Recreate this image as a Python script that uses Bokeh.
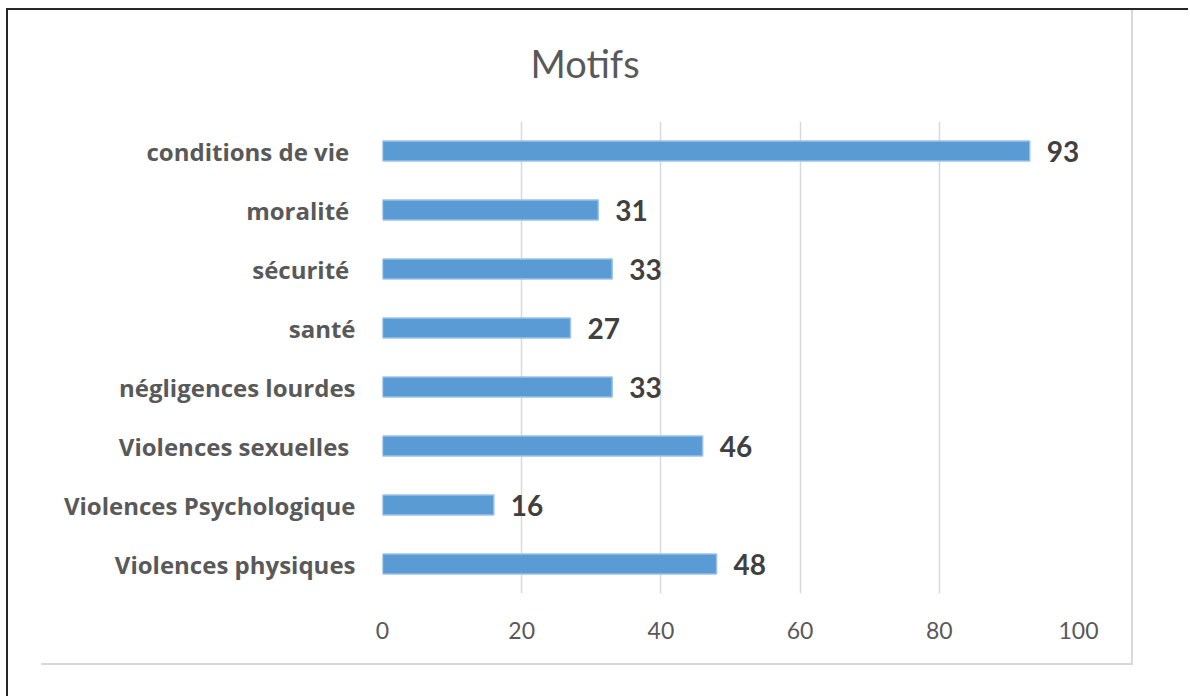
from bokeh.plotting import figure
from bokeh.models import ColumnDataSource, Title, FixedTicker
from bokeh.core.properties import value
from bokeh.embed import file_html
from bokeh.resources import INLINE

# Data (bottom to top, as drawn)
categories = [
    "Violences physiques",
    "Violences Psychologique",
    "Violences sexuelles ",
    "négligences lourdes",
    "santé",
    "sécurité ",
    "moralité ",
    "conditions de vie ",
]
counts = [48, 16, 46, 33, 27, 33, 31, 93]
x_ticks = [0, 20, 40, 60, 80, 100]
title_text = "Motifs"

src = ColumnDataSource(dict(cat=categories, val=counts, lab=[str(v) for v in counts]))

W, H = 1188, 696
p = figure(
    width=W, height=H,
    y_range=categories, x_range=(0, 100),
    output_backend="svg", toolbar_location=None,
    min_border_left=382, min_border_right=W - 1078,
    min_border_top=121, min_border_bottom=H - 593,
)
p.outline_line_color = None
p.background_fill_color = "white"
p.border_fill_alpha = 0

# page frame: dark top/left border, light grey chart-area box (CSS backgrounds)
dark, grey = "#262626", "#d9d9d9"
p.styles = {
    "background": ", ".join([
        f"linear-gradient({dark},{dark}) 6px 8px / 1182px 2px no-repeat",
        f"linear-gradient({dark},{dark}) 6px 8px / 2px 688px no-repeat",
        f"linear-gradient({grey},{grey}) 1131px 10px / 2px 655px no-repeat",
        f"linear-gradient({grey},{grey}) 41px 663px / 1092px 2px no-repeat",
        "white",
    ])
}

p.hbar(y="cat", right="val", height=0.34, left=0, source=src,
       fill_color="#5b9bd5", line_color="#9cc2e8", line_width=1.5)

p.text(x="val", y="cat", text="lab", source=src, x_offset=17,
       text_baseline="middle", text_align="left",
       text_font=value("Lato"), text_font_style="bold",
       text_font_size="28px", text_color="#404040")

# x axis
p.xaxis.ticker = FixedTicker(ticks=x_ticks)
p.xaxis.axis_line_color = None
p.xaxis.major_tick_line_color = None
p.xaxis.minor_tick_line_color = None
p.xaxis.major_label_text_font = "Lato"
p.xaxis.major_label_text_font_size = "23px"
p.xaxis.major_label_text_color = "#595959"
p.xaxis.major_label_standoff = 22

# y axis
p.yaxis.axis_line_color = None
p.yaxis.major_tick_line_color = None
p.yaxis.minor_tick_line_color = None
p.yaxis.major_label_text_font = "Open Sans"
p.yaxis.major_label_text_font_style = "bold"
p.yaxis.major_label_text_font_size = "24px"
p.yaxis.major_label_text_color = "#595959"
p.yaxis.major_label_standoff = 21

p.xgrid.grid_line_color = grey
p.xgrid.grid_line_width = 1.5
p.ygrid.grid_line_color = None

# title
p.title = Title(text=title_text, align="left", offset=148,
                text_font="Lato", text_font_size="38px",
                text_font_style="normal", text_color="#595959", standoff=72)

open("out.html", "w").write(file_html(p, INLINE))
